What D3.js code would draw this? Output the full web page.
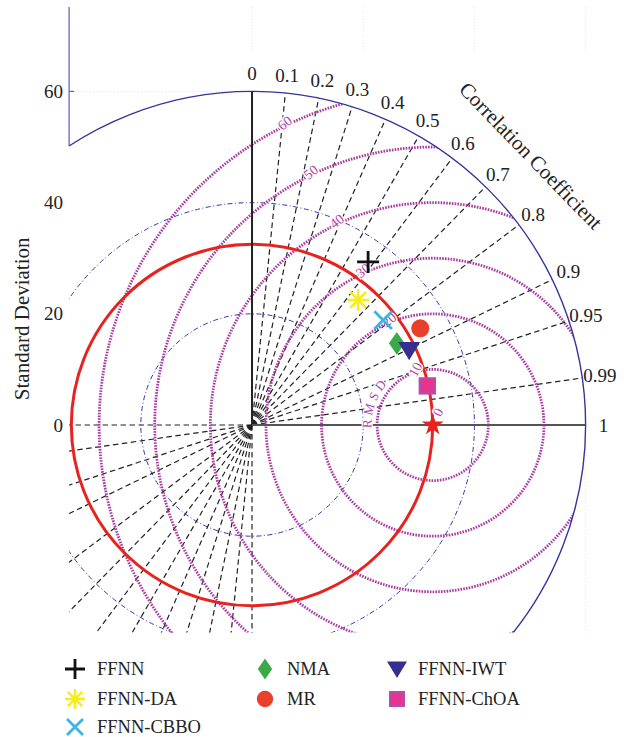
<!DOCTYPE html>
<html>
<head>
<meta charset="utf-8">
<script src="https://cdn.jsdelivr.net/npm/d3@7"></script>
<style>
  body { margin: 0; background: #fff; }
  svg text { font-family: "Liberation Serif", "DejaVu Serif", serif; }
</style>
</head>
<body>
<svg id="chart" width="634" height="737"></svg>
<script>
// Taylor diagram: model skill against the observed series
const models   = ["FFNN", "FFNN-DA", "FFNN-CBBO", "NMA", "MR", "FFNN-IWT", "FFNN-ChOA"];
const stdDev   = [36.0, 29.5, 30.2, 29.9, 34.9, 31.3, 32.3];
const corrCoef = [0.580, 0.647, 0.781, 0.871, 0.867, 0.903, 0.976];
const refStd   = 32.5;

const corrTicks = [0, 0.1, 0.2, 0.3, 0.4, 0.5, 0.6, 0.7, 0.8, 0.9, 0.95, 0.99, 1];
const stdTicks  = [0, 20, 40, 60];
const stdRings  = [20, 40];
const rmsRings  = [10, 20, 30, 40, 50, 60];
const rmsLabels = [0, 10, 20, 30, 40, 50, 60];
const maxStd    = 60;

// marker style per model
const markerShape = ["plus", "asterisk", "times", "diamond", "circle", "triangleDown", "square"];
const markerColor = ["#111111", "#f6ee1a", "#3bb5e6", "#3aaa48", "#e8402a", "#35308f", "#e8328f"];

const svg = d3.select("#chart");
const k = 5.56;
const x = d3.scaleLinear().domain([-32.9, 60]).range([69.1, 69.1 + 92.9 * k]);
const y = d3.scaleLinear().domain([-37.3, 75.2]).range([632.4, 632.4 - 112.5 * k]);
const rpx = r => x(r) - x(0);
const P = (r, a) => [x(r * Math.cos(a)), y(r * Math.sin(a))];
const Pref = (r, a) => [x(refStd + r * Math.cos(a)), y(r * Math.sin(a))];
const deg = d => d * Math.PI / 180;

const xMin = -32.9, yMin = -37.3, yMax = 75.2;

const defs = svg.append("defs");
defs.append("clipPath").attr("id", "plotClip").append("rect")
  .attr("x", x(xMin)).attr("y", y(yMax))
  .attr("width", x(62) - x(xMin)).attr("height", y(yMin) - y(yMax));
defs.append("clipPath").attr("id", "diskClip").append("circle")
  .attr("cx", x(0)).attr("cy", y(0)).attr("r", rpx(maxStd));

// faint axis grid visible outside the diagram
const gridG = svg.append("g").attr("stroke", "#dcdcdc").attr("stroke-width", 0.8)
  .attr("stroke-dasharray", "1,2");
stdTicks.forEach(v => gridG.append("line")
  .attr("x1", x(v)).attr("x2", x(v)).attr("y1", y(yMax)).attr("y2", y(67)));
gridG.append("line").attr("x1", x(xMin)).attr("x2", x(0)).attr("y1", y(60)).attr("y2", y(60));
gridG.append("line").attr("x1", x(60)).attr("x2", x(60)).attr("y1", y(0)).attr("y2", y(yMin));

// left axis
const yAxisEnd = Math.sqrt(maxStd * maxStd - xMin * xMin);
svg.append("line").attr("x1", x(xMin)).attr("x2", x(xMin))
  .attr("y1", y(yMax)).attr("y2", y(yAxisEnd))
  .attr("stroke", "#5a5abf").attr("stroke-width", 1.2);
svg.append("line").attr("x1", x(xMin)).attr("x2", x(xMin) + 5)
  .attr("y1", y(60)).attr("y2", y(60))
  .attr("stroke", "#5a5abf").attr("stroke-width", 1.2);
svg.append("g").selectAll("text").data(stdTicks).join("text")
  .attr("x", x(xMin) - 6).attr("y", d => y(d))
  .attr("text-anchor", "end").attr("dominant-baseline", "central")
  .attr("font-size", 19).attr("fill", "#222").text(d => d);

svg.append("text")
  .attr("transform", `translate(22,${y(19.1)}) rotate(-90)`)
  .attr("text-anchor", "middle").attr("dominant-baseline", "central")
  .attr("font-size", 21).attr("fill", "#222").text("Standard Deviation");

const plotG = svg.append("g").attr("clip-path", "url(#plotClip)");

// standard deviation rings
plotG.append("g").selectAll("circle").data(stdRings).join("circle")
  .attr("cx", x(0)).attr("cy", y(0)).attr("r", d => rpx(d))
  .attr("fill", "none").attr("stroke", "#3535aa").attr("stroke-width", 1)
  .attr("stroke-dasharray", "5,2.5,1,2.5");

// correlation rays through the origin
const rayG = plotG.append("g").attr("stroke", "#222").attr("stroke-width", 1.2)
  .attr("stroke-dasharray", "5.5,3.5");
corrTicks.forEach(c => {
  const a = Math.acos(c);
  if (c !== 0 && c !== 1) {
    const [ex, ey] = P(maxStd, a);
    rayG.append("line").attr("x1", x(0)).attr("y1", y(0)).attr("x2", ex).attr("y2", ey);
  }
  const [nx, ny] = P(-maxStd, a);
  rayG.append("line").attr("x1", x(0)).attr("y1", y(0)).attr("x2", nx).attr("y2", ny);
});

// centred RMS difference contours
const rmsG = plotG.append("g").attr("clip-path", "url(#diskClip)");
rmsG.selectAll("circle").data(rmsRings).join("circle")
  .attr("cx", x(refStd)).attr("cy", y(0)).attr("r", d => rpx(d))
  .attr("fill", "none").attr("stroke", "#aa3aa4").attr("stroke-width", 2.8)
  .attr("stroke-dasharray", "1.6,1.2");

// observed standard deviation
plotG.append("circle").attr("cx", x(0)).attr("cy", y(0)).attr("r", rpx(refStd))
  .attr("fill", "none").attr("stroke", "#e8231f").attr("stroke-width", 3);

// outer boundary
plotG.append("circle").attr("cx", x(0)).attr("cy", y(0)).attr("r", rpx(maxStd))
  .attr("fill", "none").attr("stroke", "#34349c").attr("stroke-width", 1.4);

// solid axes of the diagram
svg.append("line").attr("x1", x(0)).attr("y1", y(0)).attr("x2", x(0)).attr("y2", y(maxStd))
  .attr("stroke", "#222").attr("stroke-width", 2);
svg.append("line").attr("x1", x(0)).attr("y1", y(0)).attr("x2", x(maxStd)).attr("y2", y(0))
  .attr("stroke", "#555").attr("stroke-width", 2);

// correlation labels
svg.append("g").selectAll("text").data(corrTicks).join("text")
  .attr("x", d => P(63.2, Math.acos(d))[0])
  .attr("y", d => P(63.2, Math.acos(d))[1])
  .attr("text-anchor", "middle").attr("dominant-baseline", "central")
  .attr("font-size", 19).attr("fill", "#222").text(d => String(d));

const [ccx, ccy] = P(69.7, deg(44));
svg.append("text")
  .attr("transform", `translate(${ccx},${ccy}) rotate(46)`)
  .attr("text-anchor", "middle").attr("dominant-baseline", "central")
  .attr("font-size", 21).attr("fill", "#222").text("Correlation Coefficient");

// RMS contour labels along a guide line, with a white halo breaking the contour
const guideX0 = 34.7, guideSlope = -0.53;
function guidePoint(R) {
  if (R === 0) return [guideX0 + guideSlope * 2.3, 2.3];
  const b0 = guideX0 - refStd;
  const A = 1 + guideSlope * guideSlope, B = 2 * b0 * guideSlope, C = b0 * b0 - R * R;
  const t = (-B + Math.sqrt(B * B - 4 * A * C)) / (2 * A);
  return [guideX0 + guideSlope * t + guideSlope * 0.4, t + 0.4];
}
svg.append("g").selectAll("text").data(rmsLabels).join("text")
  .attr("transform", d => {
    const [gx, gy] = guidePoint(d);
    return `translate(${x(gx)},${y(gy)}) rotate(${d >= 20 ? -38 : -62})`;
  })
  .attr("text-anchor", "middle").attr("dominant-baseline", "central")
  .attr("font-size", 14).attr("fill", "#b040a8")
  .attr("stroke", "#fff").attr("stroke-width", 3).attr("paint-order", "stroke")
  .text(d => d);

// "RMSD" caption curved around the reference point
const rs = Pref(11, deg(183)), re = Pref(11, deg(100));
defs.append("path").attr("id", "rmsdPath")
  .attr("d", `M${rs[0]},${rs[1]} A${rpx(11)},${rpx(11)} 0 0 1 ${re[0]},${re[1]}`);
svg.append("text").attr("font-size", 13).attr("fill", "#b040a8").attr("letter-spacing", 3.5)
  .attr("stroke", "#fff").attr("stroke-width", 2.5).attr("paint-order", "stroke")
  .append("textPath").attr("href", "#rmsdPath").attr("startOffset", 0).text("RMSD");

// marker drawing
function drawMarker(g, shape, color, s) {
  const h = s / 2;
  if (shape === "plus") {
    g.append("path").attr("d", `M${-h},0H${h}M0,${-h}V${h}`)
      .attr("stroke", color).attr("stroke-width", 2.8).attr("fill", "none");
  } else if (shape === "times") {
    const a = h * 0.8;
    g.append("path").attr("d", `M${-a},${-a}L${a},${a}M${-a},${a}L${a},${-a}`)
      .attr("stroke", color).attr("stroke-width", 2.8).attr("fill", "none");
  } else if (shape === "asterisk") {
    const a = h * 0.72;
    g.append("path").attr("d", `M${-h},0H${h}M0,${-h}V${h}M${-a},${-a}L${a},${a}M${-a},${a}L${a},${-a}`)
      .attr("stroke", color).attr("stroke-width", 2.6).attr("fill", "none");
  } else if (shape === "diamond") {
    const w = s * 0.36, t = s * 0.52;
    g.append("path").attr("d", `M0,${-t}L${w},0L0,${t}L${-w},0Z`).attr("fill", color);
  } else if (shape === "circle") {
    g.append("circle").attr("r", s * 0.41).attr("fill", color);
  } else if (shape === "triangleDown") {
    const w = s / 2, t = s * 0.38, b = s * 0.45;
    g.append("path").attr("d", `M${-w},${-t}L${w},${-t}L0,${b}Z`).attr("fill", color);
  } else if (shape === "square") {
    const a = s * 0.34;
    g.append("rect").attr("x", -a).attr("y", -a).attr("width", 2 * a).attr("height", 2 * a)
      .attr("fill", color).attr("stroke", "#b350a6").attr("stroke-width", 2.4);
  }
}

// reference point
const [sx, sy] = P(refStd, 0);
svg.append("path").attr("transform", `translate(${sx},${sy})`)
  .attr("d", d3.symbol(d3.symbolStar, 150)()).attr("fill", "#e8231f");

// model points
models.forEach((m, i) => {
  const [px, py] = P(stdDev[i], Math.acos(corrCoef[i]));
  const g = svg.append("g").attr("transform", `translate(${px},${py})`);
  drawMarker(g, markerShape[i], markerColor[i], 22);
});

// legend
const legendCols = [[0, 1, 2], [3, 4], [5, 6]];
const colMarkerX = [75, 265, 397], colTextX = [97, 287, 418];
const rowY = [669, 699, 727];
legendCols.forEach((col, ci) => {
  col.forEach((mi, ri) => {
    const g = svg.append("g").attr("transform", `translate(${colMarkerX[ci]},${rowY[ri]})`);
    drawMarker(g, markerShape[mi], markerColor[mi], 20);
    svg.append("text").attr("x", colTextX[ci]).attr("y", rowY[ri])
      .attr("dominant-baseline", "central").attr("font-size", 18.5).attr("fill", "#222")
      .text(models[mi]);
  });
});
</script>
</body>
</html>
